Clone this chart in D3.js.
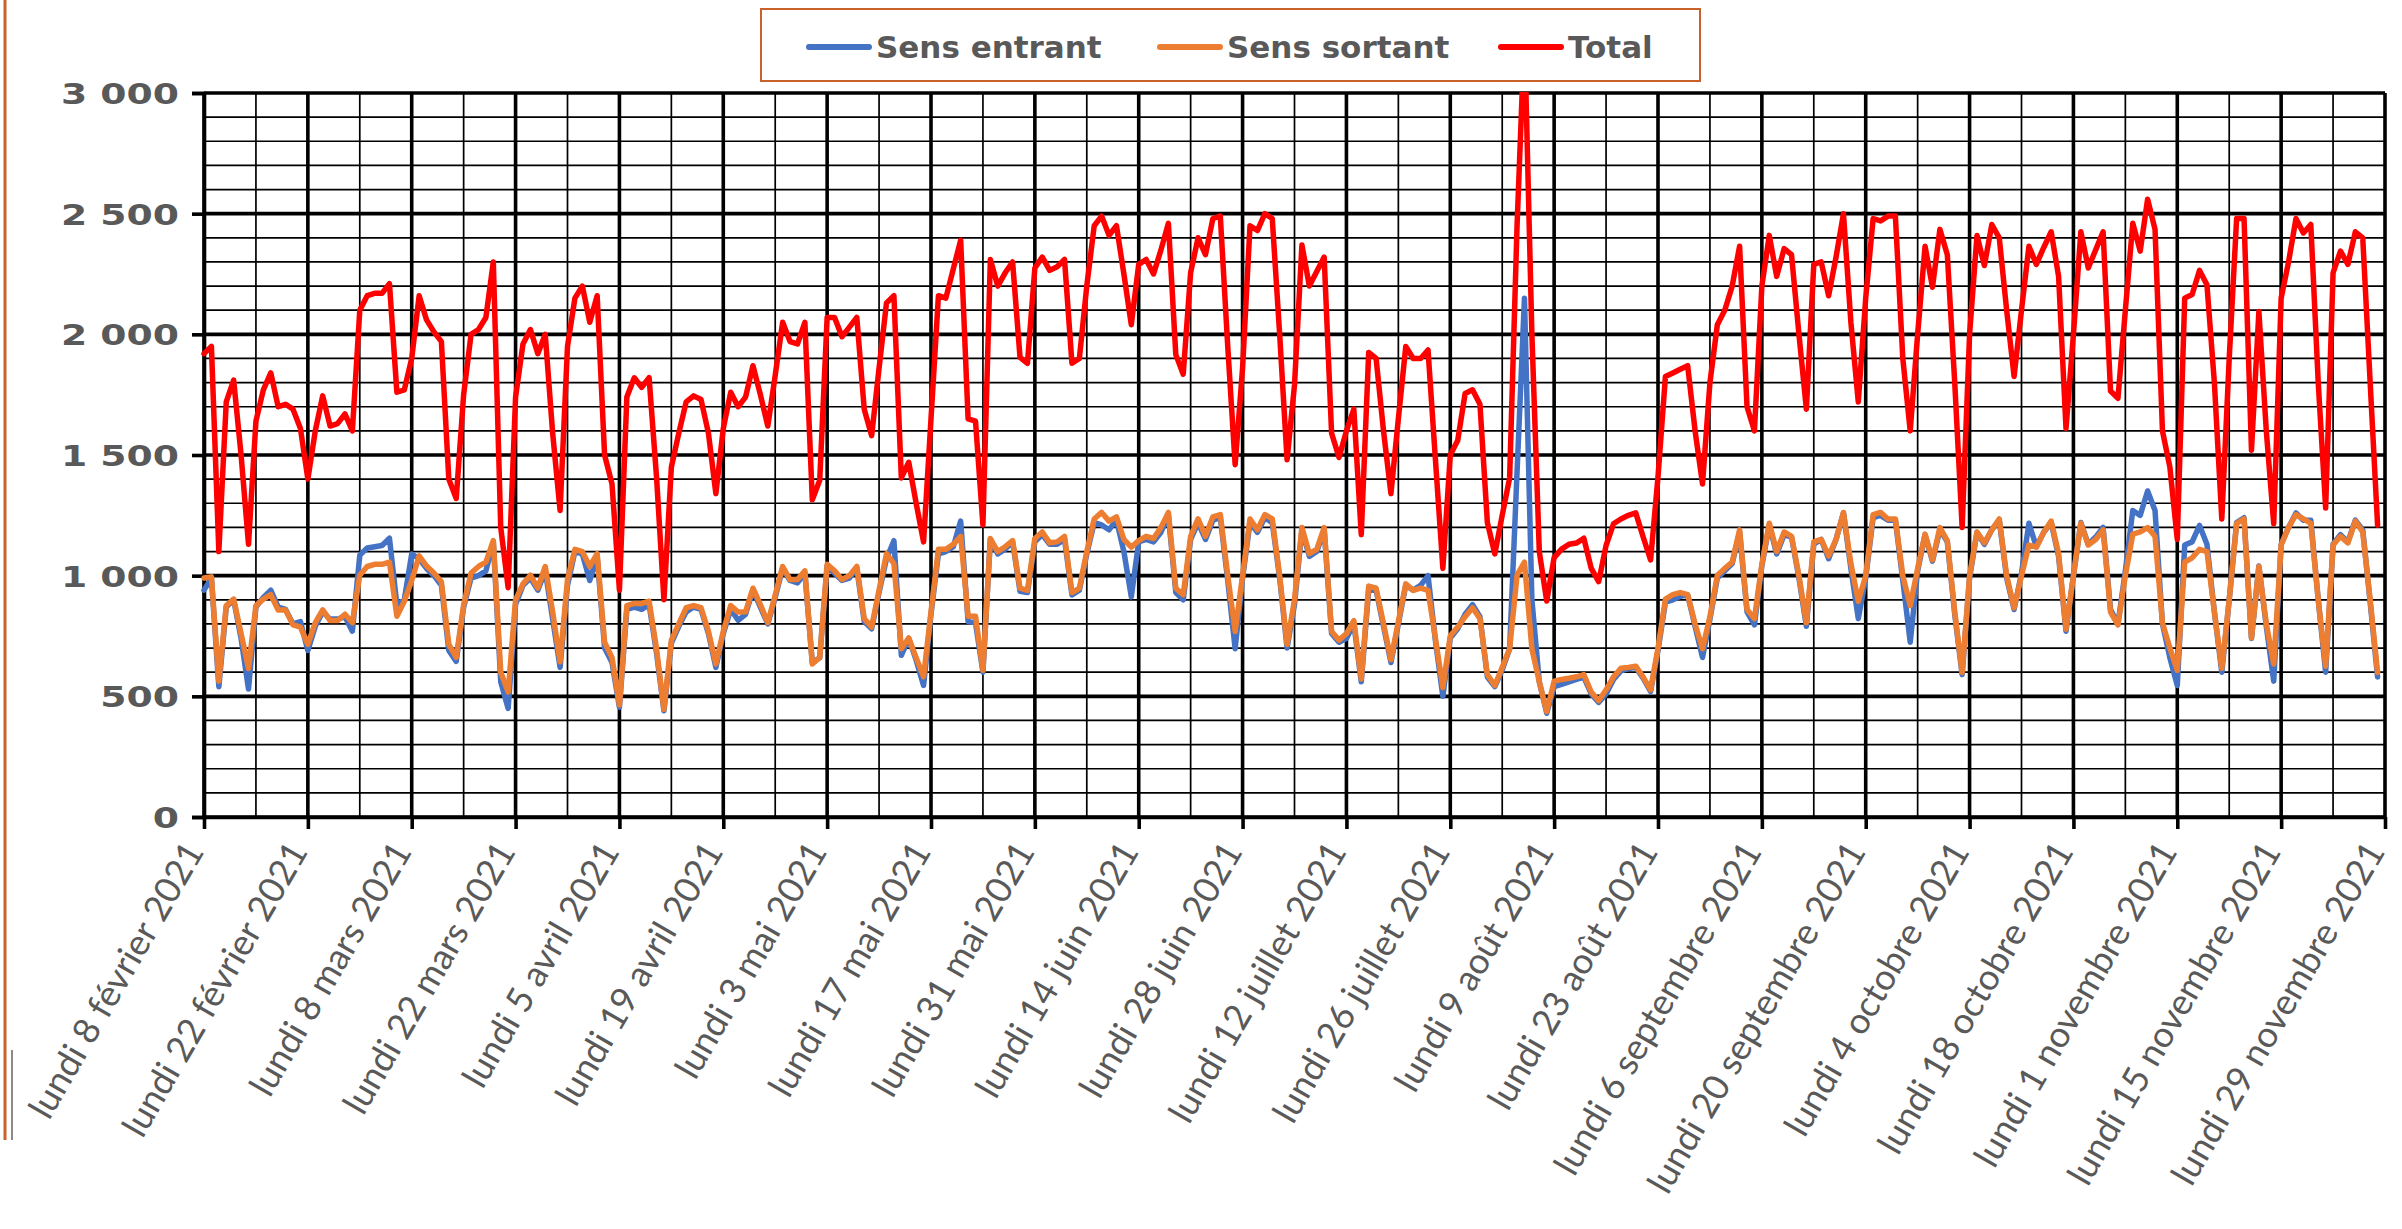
<!DOCTYPE html>
<html><head><meta charset="utf-8">
<script src="https://cdn.jsdelivr.net/npm/d3@7"></script>
<style>html,body{margin:0;padding:0;background:#fff;overflow:hidden}</style>
</head><body><svg id="c" width="2402" height="1229"></svg>
<script>
// ---- DATA ----
const startDate = "2021-02-08";
const endDate = "2021-11-29";
const seriesNames = ["Sens entrant", "Sens sortant", "Total"];
const seriesColors = ["#4472C4", "#ED7D31", "#FF0000"];

const sensEntrant = [
 940,990,540,870,900,740,530,
 870,910,940,870,860,800,810,
 690,790,850,820,820,830,770,
 1085,1115,1120,1125,1155,880,900,
 1090,1070,1030,1000,960,690,645,
 870,990,1000,1020,1140,560,450,
 880,960,990,940,1020,820,620,
 960,1100,1090,980,1080,700,640,
 455,860,870,860,880,680,440,
 720,790,850,870,860,760,620,
 760,860,815,840,940,870,800,
 910,1030,980,970,1010,640,660,
 1040,1010,980,990,1030,810,780,
 930,1070,1145,670,740,650,545,
 840,1090,1100,1120,1226,810,805,
 600,1150,1090,1110,1140,935,930,
 1140,1170,1130,1130,1150,920,940,
 1090,1220,1210,1190,1230,1100,912,
 1140,1150,1140,1180,1250,930,900,
 1150,1220,1150,1230,1240,980,697,
 990,1220,1180,1240,1220,990,700,
 880,1190,1080,1100,1190,760,724,
 740,800,560,940,940,790,640,
 800,960,940,960,1000,730,500,
 742,780,840,880,830,580,540,
 610,697,1430,2150,900,560,430,
 540,550,560,570,580,510,475,
 510,570,605,615,620,575,520,
 690,890,900,915,920,790,661,
 820,990,1020,1050,1180,850,796,
 1040,1210,1090,1170,1160,990,790,
 1130,1150,1070,1150,1260,1030,822,
 990,1240,1250,1230,1230,980,724,
 1020,1170,1060,1190,1140,840,590,
 990,1180,1130,1190,1230,990,860,
 1010,1217,1120,1180,1220,1080,770,
 1000,1220,1130,1160,1200,860,800,
 1020,1270,1250,1351,1270,800,660,
 545,1127,1140,1208,1130,850,600,
 900,1220,1240,740,1040,790,563,
 1130,1200,1260,1230,1230,900,600,
 1130,1170,1140,1230,1190,890,580
];

const sensSortant = [
 990,995,563,876,903,760,616,
 876,903,921,858,858,796,787,
 715,805,858,814,814,840,805,
 1002,1038,1047,1047,1056,832,894,
 980,1082,1040,1011,975,715,661,
 880,1011,1038,1056,1145,600,518,
 900,966,1002,948,1038,850,643,
 984,1109,1100,1038,1091,724,661,
 464,876,885,885,894,697,446,
 733,800,867,876,867,769,634,
 770,876,849,850,948,880,805,
 920,1038,984,984,1020,634,661,
 1047,1020,984,1000,1038,822,787,
 940,1091,1050,697,742,660,581,
 850,1109,1109,1130,1163,832,832,
 608,1154,1100,1120,1145,948,939,
 1154,1181,1136,1140,1163,930,948,
 1100,1235,1262,1226,1244,1150,1118,
 1145,1163,1154,1200,1262,948,921,
 1163,1235,1163,1244,1253,1000,769,
 1000,1235,1190,1253,1235,1000,715,
 900,1200,1091,1109,1199,769,733,
 760,814,572,957,948,800,652,
 810,966,939,948,939,740,536,
 751,787,830,867,822,590,545,
 620,697,1002,1056,697,560,437,
 563,570,575,581,590,518,482,
 527,581,616,620,625,580,527,
 700,903,921,930,921,800,697,
 830,1002,1030,1056,1190,860,822,
 1047,1217,1100,1181,1163,1000,805,
 1140,1150,1082,1150,1262,1050,894,
 1000,1253,1262,1235,1235,1000,876,
 1030,1172,1065,1199,1145,850,599,
 1000,1181,1136,1190,1235,1000,867,
 1000,1127,1118,1180,1226,1091,778,
 1000,1217,1127,1150,1190,849,796,
 1000,1172,1181,1199,1163,805,700,
 608,1056,1074,1109,1100,850,616,
 900,1217,1235,742,1038,800,634,
 1127,1200,1253,1235,1217,900,625,
 1127,1163,1136,1226,1181,900,599
];

const total = [
 1920,1950,1100,1720,1810,1500,1130,
 1640,1770,1840,1700,1710,1690,1610,
 1400,1600,1745,1620,1630,1670,1600,
 2100,2160,2170,2170,2210,1760,1770,
 1900,2160,2060,2010,1970,1400,1320,
 1750,2000,2020,2070,2300,1200,950,
 1740,1960,2020,1920,2000,1590,1270,
 1950,2150,2200,2050,2160,1500,1380,
 940,1740,1820,1780,1820,1410,900,
 1450,1590,1720,1745,1730,1590,1340,
 1610,1760,1700,1740,1870,1750,1620,
 1830,2050,1970,1960,2050,1315,1395,
 2070,2070,1990,2030,2070,1690,1580,
 1860,2130,2160,1405,1470,1300,1140,
 1650,2160,2150,2270,2390,1650,1640,
 1210,2310,2200,2255,2300,1905,1880,
 2275,2320,2265,2280,2310,1880,1900,
 2200,2450,2490,2410,2450,2250,2040,
 2290,2310,2250,2350,2460,1916,1835,
 2256,2400,2330,2480,2490,1950,1460,
 1860,2450,2430,2500,2480,2000,1480,
 1790,2370,2200,2260,2320,1590,1490,
 1600,1690,1170,1925,1900,1600,1340,
 1650,1950,1900,1900,1935,1480,1030,
 1500,1560,1755,1770,1710,1220,1090,
 1250,1405,2450,3250,2000,1100,895,
 1075,1110,1130,1135,1155,1030,975,
 1125,1215,1235,1250,1260,1160,1065,
 1410,1825,1840,1855,1870,1600,1380,
 1800,2040,2100,2200,2365,1700,1600,
 2200,2410,2240,2355,2330,2000,1690,
 2290,2300,2160,2320,2500,2050,1720,
 2150,2480,2470,2490,2490,1900,1600,
 2000,2365,2195,2435,2330,1800,1200,
 2000,2410,2285,2455,2400,2100,1825,
 2100,2365,2290,2360,2425,2240,1610,
 2000,2425,2275,2350,2425,1765,1735,
 2100,2460,2345,2560,2435,1600,1450,
 1150,2150,2165,2265,2205,1800,1235,
 1900,2480,2480,1520,2095,1600,1215,
 2150,2300,2480,2420,2455,1800,1280,
 2255,2345,2290,2425,2400,1800,1210
];

const yTicks = [0, 500, 1000, 1500, 2000, 2500, 3000];
const yTickLabels = ["0", "500", "1 000", "1 500", "2 000", "2 500", "3 000"];
const xTickLabels = [
 "lundi 8 février 2021", "lundi 22 février 2021", "lundi 8 mars 2021", "lundi 22 mars 2021",
 "lundi 5 avril 2021", "lundi 19 avril 2021", "lundi 3 mai 2021", "lundi 17 mai 2021",
 "lundi 31 mai 2021", "lundi 14 juin 2021", "lundi 28 juin 2021", "lundi 12 juillet 2021",
 "lundi 26 juillet 2021", "lundi 9 août 2021", "lundi 23 août 2021", "lundi 6 septembre 2021",
 "lundi 20 septembre 2021", "lundi 4 octobre 2021", "lundi 18 octobre 2021", "lundi 1 novembre 2021",
 "lundi 15 novembre 2021", "lundi 29 novembre 2021"
];

// ---- LAYOUT ----
const W = 2402, H = 1229;
const L = 204, R = 2385, T = 93, B = 817;
const parse = d3.utcParse("%Y-%m-%d");
const d0 = parse(startDate), d1 = parse(endDate);
const x = d3.scaleUtc().domain([d0, d1]).range([L, R]);
const y = d3.scaleLinear().domain([0, 3000]).range([B, T]);
const dates = total.map((_, i) => d3.utcDay.offset(d0, i));

const svg = d3.select("#c");
svg.append("rect").attr("width", W).attr("height", H).attr("fill", "#fff");

// outer decoration (frame edge at left)
svg.append("line").attr("x1", 5).attr("x2", 5).attr("y1", 0).attr("y2", 1140)
  .attr("stroke", "#C8622A").attr("stroke-width", 3);
svg.append("line").attr("x1", 12).attr("x2", 12).attr("y1", 1050).attr("y2", 1140)
  .attr("stroke", "#8a8a8a").attr("stroke-width", 2);

// grid
const grid = svg.append("g");
d3.range(0, 3001, 100).forEach(v => {
  const major = v % 500 === 0;
  grid.append("line").attr("x1", L).attr("x2", R).attr("y1", y(v)).attr("y2", y(v))
    .attr("stroke", "#000").attr("stroke-width", major ? 3.6 : 1.7);
});
const weekCount = Math.round((d1 - d0) / (7 * 864e5));
d3.range(0, weekCount + 1).forEach(i => {
  const dx = x(d3.utcDay.offset(d0, 7 * i));
  const major = i % 2 === 0;
  grid.append("line").attr("x1", dx).attr("x2", dx).attr("y1", T).attr("y2", B)
    .attr("stroke", "#000").attr("stroke-width", major ? 3.6 : 1.7);
});

// y axis
const yAxis = svg.append("g").attr("transform", `translate(${L},0)`)
  .call(d3.axisLeft(y).tickValues(yTicks).tickFormat((d, i) => yTickLabels[i]).tickSize(12).tickPadding(8));
yAxis.select(".domain").attr("stroke", "#000").attr("stroke-width", 3.6);
yAxis.selectAll(".tick line").attr("stroke", "#000").attr("stroke-width", 3.6);
yAxis.selectAll(".tick text")
  .attr("font-family", "DejaVu Sans").attr("font-weight", "bold").attr("font-size", 29)
  .attr("fill", "#595959").attr("x", -25 / 1.3).attr("dy", "0.36em")
  .attr("transform", "scale(1.3,1)");

// x axis
const tickDates = xTickLabels.map((_, i) => d3.utcDay.offset(d0, 14 * i));
const xAxis = svg.append("g").attr("transform", `translate(0,${B})`)
  .call(d3.axisBottom(x).tickValues(tickDates).tickFormat("").tickSize(12).tickSizeOuter(0));
xAxis.select(".domain").attr("stroke", "#000").attr("stroke-width", 3.6);
xAxis.selectAll(".tick line").attr("stroke", "#000").attr("stroke-width", 3.6);
const xl = svg.append("g");
tickDates.forEach((dt, i) => {
  xl.append("text")
    .attr("transform", `translate(${x(dt) - 10},${B + 28}) rotate(-60)`)
    .attr("text-anchor", "end").attr("dy", "0.35em")
    .attr("font-family", "Lato").attr("font-size", 36).attr("fill", "#595959")
    .text(xTickLabels[i]);
});

// lines
svg.append("clipPath").attr("id", "clip").append("rect")
  .attr("x", L - 4).attr("y", T - 1).attr("width", R - L + 8).attr("height", B - T + 6);
const line = d3.line().x((d, i) => x(dates[i])).y(d => y(d));
const plot = svg.append("g").attr("clip-path", "url(#clip)");
[sensEntrant, sensSortant, total].forEach((s, k) => {
  plot.append("path").attr("d", line(s)).attr("fill", "none")
    .attr("stroke", seriesColors[k]).attr("stroke-width", 5.5)
    .attr("stroke-linejoin", "round").attr("stroke-linecap", "round");
});

// legend
const lg = svg.append("g");
lg.append("rect").attr("x", 761).attr("y", 9).attr("width", 939).attr("height", 72)
  .attr("fill", "#fff").attr("stroke", "#C8622A").attr("stroke-width", 2);
const legendX = [809, 1160, 1501];
seriesNames.forEach((n, k) => {
  lg.append("line").attr("x1", legendX[k]).attr("x2", legendX[k] + 60).attr("y1", 47).attr("y2", 47)
    .attr("stroke", seriesColors[k]).attr("stroke-width", 6).attr("stroke-linecap", "round");
  lg.append("text").attr("x", legendX[k] + 67).attr("y", 47).attr("dy", "0.36em")
    .attr("font-family", "DejaVu Sans").attr("font-weight", "bold").attr("font-size", 31)
    .attr("fill", "#595959").text(n);
});
</script>
</body></html>
